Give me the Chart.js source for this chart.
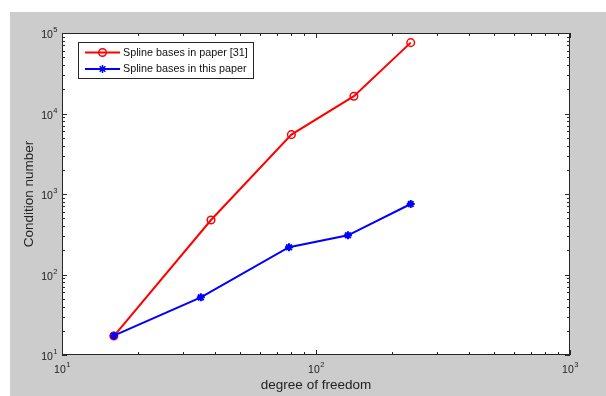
<!DOCTYPE html>
<html>
<head>
<meta charset="utf-8">
<script src="https://cdn.jsdelivr.net/npm/chart.js@4"></script>
<style>
  html, body { margin: 0; padding: 0; background: #fff; }
  #wrap { width: 606px; height: 396px; }
</style>
</head>
<body>
<div id="wrap"><canvas id="cond"></canvas></div>
<script>
// condition number vs degree of freedom, log-log
const dofOld = [16, 38.6, 80, 141, 236];
const condOld = [17.2, 475, 5460, 16400, 75900];
const dofNew = [16, 35.2, 78.3, 133.6, 236];
const condNew = [17.4, 52, 218, 307, 751];

const xDecades = [1, 2, 3];
const yDecades = [1, 2, 3, 4, 5];

const legendLabels = ['Spline bases in paper [31]', 'Spline bases in this paper'];
const xTitle = 'degree of freedom';
const yTitle = 'Condition number';

const FONT = '"Liberation Sans", Arial, Helvetica, sans-serif';
const AXIS = '#262626';

const toPts = (xs, ys) => xs.map((x, i) => ({ x: x, y: ys[i] }));

// superscript power-of-ten label
function drawPow(ctx, exp, x, y, align) {
  ctx.font = '10.5px ' + FONT;
  const wBase = ctx.measureText('10').width;
  ctx.font = '7.5px ' + FONT;
  const wExp = ctx.measureText(String(exp)).width;
  let start;
  if (align === 'center') start = x - (wBase + wExp) / 2;
  else start = x - wBase - wExp;
  ctx.fillStyle = '#222';
  ctx.textAlign = 'left';
  ctx.textBaseline = 'alphabetic';
  ctx.font = '10.5px ' + FONT;
  ctx.fillText('10', start, y);
  ctx.font = '7.5px ' + FONT;
  ctx.fillText(String(exp), start + wBase + 0.5, y - 6);
}

function markerPath(ctx, style, x, y, color) {
  ctx.save();
  ctx.strokeStyle = color;
  ctx.lineWidth = 1.5;
  ctx.beginPath();
  if (style === 'circle') {
    ctx.arc(x, y, 3.8, 0, Math.PI * 2);
  } else {
    const r = 4;
    ctx.moveTo(x - r, y); ctx.lineTo(x + r, y);
    ctx.moveTo(x, y - r); ctx.lineTo(x, y + r);
    const d = r * 0.7;
    ctx.moveTo(x - d, y - d); ctx.lineTo(x + d, y + d);
    ctx.moveTo(x - d, y + d); ctx.lineTo(x + d, y - d);
  }
  ctx.stroke();
  ctx.restore();
}

const frame = {
  id: 'frame',
  beforeDraw(chart) {
    const { ctx, chartArea: a } = chart;
    ctx.save();
    ctx.fillStyle = '#fff';
    ctx.fillRect(0, 0, chart.width, chart.height);
    ctx.fillStyle = '#cccccc';
    ctx.fillRect(10, 12, chart.width - 10, chart.height - 12);
    ctx.fillStyle = '#fff';
    ctx.fillRect(a.left, a.top, a.right - a.left, a.bottom - a.top);
    ctx.restore();
  },
  afterDraw(chart) {
    const { ctx, chartArea: a } = chart;
    const xs = chart.scales.x, ys = chart.scales.y;
    ctx.save();

    // box
    ctx.strokeStyle = AXIS;
    ctx.lineWidth = 1;
    ctx.strokeRect(Math.round(a.left) + 0.5, Math.round(a.top) + 0.5,
      Math.round(a.right - a.left) - 1, Math.round(a.bottom - a.top) - 1);

    // inward ticks on all four sides
    ctx.beginPath();
    for (let e = xDecades[0]; e <= xDecades[xDecades.length - 1]; e++) {
      for (let m = 1; m <= 9; m++) {
        const v = m * Math.pow(10, e);
        if (v > xs.max) break;
        const px = Math.round(xs.getPixelForValue(v)) + 0.5;
        const len = m === 1 ? 5 : 3;
        ctx.moveTo(px, a.bottom); ctx.lineTo(px, a.bottom - len);
        ctx.moveTo(px, a.top); ctx.lineTo(px, a.top + len);
      }
    }
    for (let e = yDecades[0]; e <= yDecades[yDecades.length - 1]; e++) {
      for (let m = 1; m <= 9; m++) {
        const v = m * Math.pow(10, e);
        if (v > ys.max) break;
        const py = Math.round(ys.getPixelForValue(v)) + 0.5;
        const len = m === 1 ? 5 : 3;
        ctx.moveTo(a.left, py); ctx.lineTo(a.left + len, py);
        ctx.moveTo(a.right, py); ctx.lineTo(a.right - len, py);
      }
    }
    ctx.stroke();

    // tick labels
    xDecades.forEach(e => drawPow(ctx, e, xs.getPixelForValue(Math.pow(10, e)), a.bottom + 18, 'center'));
    yDecades.forEach(e => drawPow(ctx, e, a.left - 5, ys.getPixelForValue(Math.pow(10, e)) + 5, 'right'));

    // axis titles
    ctx.fillStyle = '#222';
    ctx.font = '13.5px ' + FONT;
    ctx.textAlign = 'center';
    ctx.textBaseline = 'alphabetic';
    ctx.fillText(xTitle, (a.left + a.right) / 2, 389);
    ctx.save();
    ctx.translate(33, (a.top + a.bottom) / 2);
    ctx.rotate(-Math.PI / 2);
    ctx.fillText(yTitle, 0, 0);
    ctx.restore();

    // legend
    const lx = 78, ly = 42, lw = 175, lh = 36;
    ctx.fillStyle = '#fff';
    ctx.fillRect(lx, ly, lw, lh);
    ctx.strokeStyle = AXIS;
    ctx.strokeRect(lx + 0.5, ly + 0.5, lw, lh);
    chart.data.datasets.forEach((ds, i) => {
      const rowY = ly + 10.5 + i * 16.5;
      ctx.strokeStyle = ds.borderColor;
      ctx.lineWidth = 2;
      ctx.beginPath();
      ctx.moveTo(lx + 7, rowY); ctx.lineTo(lx + 42, rowY);
      ctx.stroke();
      markerPath(ctx, ds.pointStyle, lx + 24.5, rowY, ds.borderColor);
      ctx.fillStyle = '#111';
      ctx.font = '10.8px ' + FONT;
      ctx.textAlign = 'left';
      ctx.textBaseline = 'middle';
      ctx.fillText(legendLabels[i], lx + 45, rowY + 0.5);
    });
    ctx.restore();
  }
};

new Chart(document.getElementById('cond'), {
  type: 'line',
  data: {
    datasets: [
      {
        label: legendLabels[0],
        data: toPts(dofOld, condOld),
        borderColor: '#ff0000',
        backgroundColor: 'rgba(0,0,0,0)',
        borderWidth: 2,
        pointStyle: 'circle',
        pointRadius: 3.8,
        pointBorderWidth: 1.5,
        tension: 0,
        order: 2
      },
      {
        label: legendLabels[1],
        data: toPts(dofNew, condNew),
        borderColor: '#0000ff',
        backgroundColor: '#0000ff',
        borderWidth: 2,
        pointStyle: 'star',
        pointRadius: 4,
        pointBorderWidth: 2,
        tension: 0,
        order: 1
      }
    ]
  },
  options: {
    responsive: true,
    maintainAspectRatio: false,
    animation: false,
    layout: { padding: { left: 62, right: 36, top: 33, bottom: 41 } },
    plugins: { legend: { display: false }, tooltip: { enabled: false } },
    scales: {
      x: { type: 'logarithmic', min: 10, max: 1000, display: false },
      y: { type: 'logarithmic', min: 10, max: 100000, display: false }
    }
  },
  plugins: [frame]
});
</script>
</body>
</html>
